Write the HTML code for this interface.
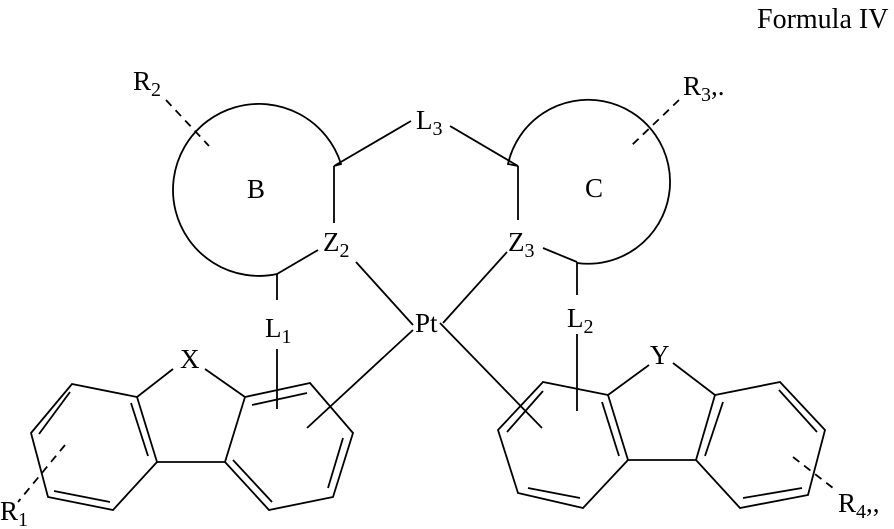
<!DOCTYPE html>
<html><head><meta charset="utf-8"><style>
html,body{margin:0;padding:0;background:#fff;}
svg{display:block}
text{font-family:"Liberation Serif",serif;fill:#000;font-size:27px}
.s{font-size:20px}
.f{font-size:28px}
</style></head><body>
<svg width="894" height="529" viewBox="0 0 894 529" xmlns="http://www.w3.org/2000/svg">
<g stroke="#000" stroke-width="1.8" fill="none" stroke-linecap="butt">
<path d="M334,166 L341,164 A86,86 0 1 0 277,274"/>
<path d="M518,166 L508,164 A82,82 0 1 1 577,263"/>
<line x1="334" y1="166" x2="334" y2="223"/>
<line x1="277" y1="274" x2="318" y2="250"/>
<line x1="334" y1="166" x2="411" y2="121"/>
<line x1="450" y1="126" x2="518" y2="166"/>
<line x1="518" y1="166" x2="518" y2="220"/>
<line x1="543" y1="248" x2="577" y2="262"/>
<line x1="577" y1="262" x2="577" y2="295"/>
<line x1="277" y1="274" x2="277" y2="300"/>
<line x1="356" y1="262" x2="413" y2="325"/>
<line x1="507" y1="252" x2="443" y2="323"/>
<line x1="413" y1="330" x2="307" y2="428"/>
<line x1="440" y1="323" x2="542" y2="428"/>
<line x1="277" y1="349" x2="277" y2="409"/>
<line x1="577" y1="334" x2="577" y2="411"/>
<g stroke-dasharray="8,6">
<line x1="166" y1="100" x2="209" y2="146"/>
<line x1="679" y1="100" x2="632" y2="145"/>
<line x1="65" y1="445" x2="18" y2="502"/>
<line x1="793" y1="457" x2="833" y2="488"/>
</g>
<polygon points="72,384 137,397 157,462 113,510 48,497 31,433"/>
<line x1="39" y1="434" x2="70" y2="392"/>
<line x1="54" y1="491" x2="110" y2="502"/>
<line x1="131" y1="403" x2="148" y2="456"/>
<line x1="137" y1="397" x2="173" y2="369"/>
<line x1="205" y1="369" x2="245" y2="397"/>
<line x1="245" y1="397" x2="225" y2="462"/>
<line x1="157" y1="462" x2="225" y2="462"/>
<polyline points="245,397 310,383 353,433 333,497 269,510 225,462"/>
<line x1="252" y1="405" x2="307" y2="393"/>
<line x1="343" y1="438" x2="328" y2="488"/>
<line x1="233" y1="460" x2="272" y2="502"/>
<line x1="649" y1="365" x2="608" y2="395"/>
<line x1="673" y1="363" x2="715" y2="395"/>
<line x1="608" y1="395" x2="628" y2="460"/>
<line x1="715" y1="395" x2="696" y2="460"/>
<line x1="628" y1="460" x2="696" y2="460"/>
<line x1="602" y1="402" x2="619" y2="456"/>
<line x1="723" y1="402" x2="705" y2="456"/>
<polyline points="715,395 780,382 825,430 808,495 740,508 696,460"/>
<line x1="779" y1="390" x2="817" y2="432"/>
<line x1="743" y1="498" x2="802" y2="488"/>
<polyline points="608,395 543,382 498,430 518,493 583,508 628,460"/>
<line x1="507" y1="432" x2="543" y2="391"/>
<line x1="528" y1="488" x2="580" y2="498"/>
</g>
<text class="f" x="757" y="28">Formula IV</text>
<text x="133" y="90">R<tspan class="s" dy="6">2</tspan></text>
<text x="683" y="95">R<tspan class="s" dy="6">3</tspan><tspan dy="-6">,.</tspan></text>
<text x="416" y="129">L<tspan class="s" dy="6">3</tspan></text>
<text x="247" y="198">B</text>
<text x="585" y="197">C</text>
<text x="323" y="251">Z<tspan class="s" dy="6">2</tspan></text>
<text x="508" y="251">Z<tspan class="s" dy="6">3</tspan></text>
<text x="265" y="337">L<tspan class="s" dy="6">1</tspan></text>
<text x="567" y="327">L<tspan class="s" dy="6">2</tspan></text>
<text x="415" y="332">Pt</text>
<text x="180" y="368">X</text>
<text x="650" y="364">Y</text>
<text x="0" y="520">R<tspan class="s" dy="6">1</tspan></text>
<text x="838" y="512">R<tspan class="s" dy="6">4</tspan><tspan dy="-6">,,</tspan></text>
</svg>
</body></html>
